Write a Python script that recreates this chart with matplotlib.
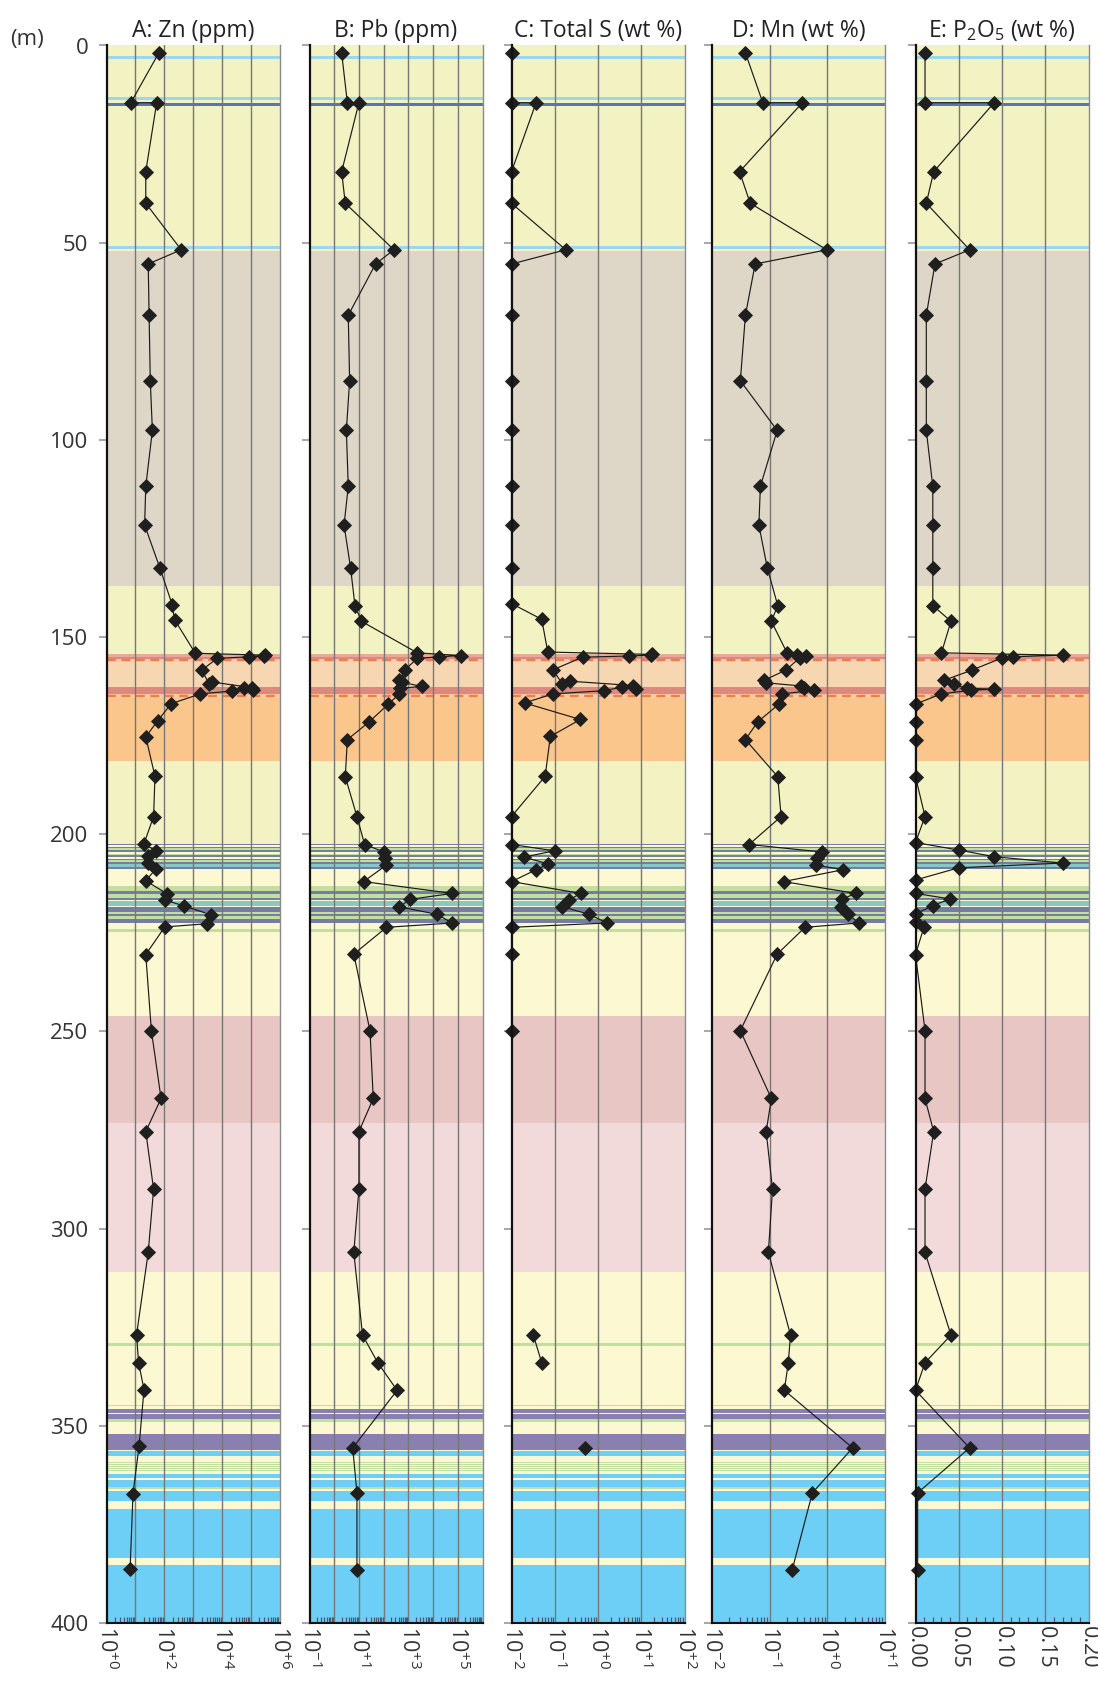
import numpy as np
import matplotlib
matplotlib.use("Agg")
import matplotlib.pyplot as plt
from matplotlib.ticker import FixedLocator, NullFormatter, FixedFormatter

plt.rcParams['font.family'] = ['Open Sans', 'DejaVu Sans']
plt.rcParams['mathtext.fontset'] = 'custom'
plt.rcParams['mathtext.rm'] = 'Open Sans'
plt.rcParams['mathtext.it'] = 'Open Sans:italic'
plt.rcParams['mathtext.bf'] = 'Open Sans:bold'

# ---------------------------------------------------------------- data
# A: Zn (ppm)
zn_depth = [1.9, 14.5, 14.5, 32, 40, 51.8, 55.4, 68.4, 85, 97.6, 111.8, 121.6,
            132.6, 141.8, 145.6, 154.1, 154.6, 154.8, 155.0, 155.4, 158.4,
            161.8, 161.4, 162.8, 163.3, 163.0, 163.7, 164.4, 166.9, 171.2,
            175.3, 185.3, 195.5, 202.4, 204.2, 205.6, 207.3, 208.8, 211.8,
            215.1, 216.7, 218.2, 220.4, 222.7, 223.5, 230.5, 249.8, 267, 275.4,
            290, 306, 327, 334, 340.8, 355.1, 367.2, 386.2]
zn_ppm = [65, 7, 55, 23, 23, 390, 28, 30, 33, 39, 23, 21,
          72, 190, 230, 1200, 316000, 290000, 89000, 6900, 2000,
          3600, 4500, 107000, 123000, 60000, 22000, 1800, 175, 60,
          23, 48, 43, 20, 51, 27, 28, 51, 23,
          126, 107, 500, 4100, 2950, 105, 23, 36, 78, 23,
          43, 28, 11, 13, 20, 13.5, 8.3, 6.6]

# B: Pb (ppm)
pb_depth = [1.9, 14.5, 14.5, 32, 40, 51.8, 55.4, 68.4, 85, 97.6, 111.8, 121.6,
            132.5, 142, 146, 154, 154.7, 155.0, 155.4, 158.4, 161, 161.5,
            162.5, 163, 164.4, 167, 171.5, 176, 185.4, 195.5, 202.6, 204.5,
            206, 207.8, 212, 215, 216.5, 218.4, 220.3, 222.5, 223.6, 230.4,
            249.8, 267, 275.4, 290, 306, 327, 334, 341, 355.6, 367, 386.6]
pb_ppm = [2.0, 3.4, 10, 2.0, 2.8, 260, 47, 3.7, 4.2, 3.1, 3.7, 2.5,
          4.6, 6.9, 12.6, 2300, 130000, 18000, 2300, 700, 430, 560,
          3500, 470, 430, 155, 26, 3.4, 2.8, 8.3, 17, 105,
          115, 130, 15.5, 59000, 1200, 430, 14500, 59000, 130, 6.2,
          28, 38, 10, 10, 6.2, 14, 58, 350, 5.6, 8.3, 8.3]

# C: Total S (wt %); NaN marks depths without analyses
s_depth = [1.9, 14.5, 14.5, 32, 40, 51.8, 55.4, 68.4, 85, 97.6, 111.8, 121.6,
           132.5, 141.5, 145.5, 153.8, 154.4, 154.6, 154.8, 155.1, 158.3,
           161.9, 161.2, 162.3, 163.1, 162.7, 163.6, 164.4, 166.7, 170.9,
           175.2, 185.3, 195.5, 202.6, 204.2, 205.8, 207.5, 209, 212, 215,
           216.7, 218.4, 220.3, 222.5, 223.6, 230.4, 249.8, 290, 327, 334,
           345, 355.6]
s_wt = [0.01, 0.01, 0.037, 0.01, 0.01, 0.18, 0.01, 0.01, 0.01, 0.01, 0.01, 0.01,
        0.01, 0.01, 0.05, 0.069, 18, 16.6, 5.2, 0.44, 0.091,
        0.15, 0.23, 6.5, 7.4, 3.5, 1.4, 0.091, 0.020, 0.39,
        0.079, 0.060, 0.01, 0.01, 0.10, 0.019, 0.071, 0.037, 0.01, 0.40,
        0.21, 0.15, 0.63, 1.6, 0.01, 0.01, 0.01, np.nan, 0.032, 0.05,
        np.nan, 0.5]

# D: Mn (wt %)
mn_depth = [1.9, 14.5, 14.5, 32, 40, 51.8, 55.4, 68.4, 85, 97.6, 111.8, 121.6,
            132.5, 142, 146, 154, 154.6, 154.9, 155.3, 158.4, 161, 161.6,
            162.4, 163, 163.5, 164.4, 167, 171.5, 176, 185.4, 195.5, 202.6,
            204.5, 206, 207.8, 209, 212, 215, 216.5, 218.4, 220.3, 222.5,
            223.6, 230.4, 249.8, 267, 275.4, 290, 306, 327, 334, 341, 355.6,
            367, 386.6]
mn_wt = [0.038, 0.076, 0.37, 0.030, 0.046, 0.98, 0.056, 0.038, 0.031, 0.135,
         0.069, 0.065, 0.091, 0.138, 0.107, 0.20, 0.30, 0.42, 0.33, 0.19,
         0.079, 0.087, 0.35, 0.39, 0.58, 0.166, 0.145, 0.062, 0.038, 0.138,
         0.158, 0.044, 0.81, 0.66, 0.63, 1.86, 0.174, 3.1, 1.78, 1.70, 2.3,
         3.5, 0.41, 0.135, 0.031, 0.107, 0.087, 0.112, 0.095, 0.23, 0.21,
         0.18, 2.75, 0.55, 0.245]

# E: P2O5 (wt %)
p_depth = [1.9, 14.5, 14.5, 32, 40, 51.8, 55.4, 68.4, 85, 97.6, 111.8, 121.6,
           132.5, 142, 146, 154, 154.6, 155.0, 155.3, 158.4, 161, 162, 163,
           163.2, 163.5, 164.4, 167, 171.5, 176, 185.4, 195.5, 202.1, 204,
           205.7, 207.3, 208.5, 211.6, 215, 216.4, 218.1, 220.2, 222.3, 223.4,
           230.5, 249.8, 267, 275.4, 290, 306, 327, 334, 341, 355.6, 367,
           386.6]
p_wt = [0.011, 0.011, 0.091, 0.021, 0.0125, 0.0625, 0.0225, 0.0125, 0.0125,
        0.0125, 0.02, 0.02, 0.02, 0.02, 0.041, 0.03, 0.17, 0.1125, 0.10,
        0.065, 0.0325, 0.044, 0.059, 0.091, 0.064, 0.03, 0.0, 0.0, 0.0, 0.0,
        0.011, 0.0, 0.05, 0.091, 0.17, 0.05, 0.0, 0.0, 0.04, 0.02, 0.0, 0.0,
        0.01, 0.0, 0.011, 0.011, 0.021, 0.011, 0.011, 0.041, 0.011, 0.0,
        0.0625, 0.0025, 0.0025]

# Lithological units (depth intervals, m)
unit_top = [0, 52.2, 137, 154.4, 155.0, 155.8, 162.7, 164.5, 181.5, 202.4,
            224.9, 246, 273.2, 311]
unit_base = [52.2, 137, 154.4, 155.0, 155.8, 162.7, 164.5, 181.5, 202.4,
             224.9, 246, 273.2, 311, 400]
unit_kind = ['green_yellow', 'beige', 'green_yellow', 'salmon_light', 'salmon',
             'peach', 'salmon', 'orange', 'green_yellow', 'pale_yellow',
             'pale_yellow', 'dusty_pink', 'light_pink', 'pale_yellow']

# Thin beds drawn over the units
bed_top = [2.7, 13.1, 14.6, 50.9,
           202.4, 203.2, 203.6, 204.07, 204.9, 205.35, 206.2, 206.6, 207.0,
           207.5, 208.3,
           213.1, 214.5, 215.2, 216.2, 216.9, 218.5, 219.6, 220.2, 220.7,
           221.5, 224.0, 329.1,
           344.1, 344.6, 345.7, 347.1, 348.3, 352.0, 354.2, 356.3,
           357.8, 358.3, 358.8, 359.3, 359.8, 360.3, 360.8, 361.3,
           362.1, 363.8, 365.6, 366.6, 371.0, 385.4]
bed_base = [3.3, 13.8, 15.3, 51.5,
            202.8, 203.6, 204.07, 204.5, 205.35, 205.8, 206.6, 207.0, 207.5,
            208.3, 208.8,
            214.5, 215.2, 216.2, 216.7, 218.1, 219.6, 220.2, 220.7, 221.5,
            222.4, 224.9, 329.8,
            344.3, 344.9, 346.7, 348.2, 349.0, 354.0, 356.2, 357.6,
            357.95, 358.45, 358.95, 359.45, 359.95, 360.45, 360.95, 361.45,
            363.3, 365.5, 365.9, 369.0, 383.5, 400]
bed_kind = ['light_blue', 'light_blue', 'dark_blue', 'light_blue',
            'slate', 'slate', 'green', 'slate', 'green', 'slate', 'slate',
            'green', 'slate', 'teal', 'slate',
            'green', 'slate', 'green', 'slate', 'teal', 'slate', 'green',
            'slate', 'green', 'slate', 'green', 'green',
            'green', 'green', 'purple', 'purple', 'green', 'purple', 'purple',
            'blue',
            'green', 'green', 'green', 'green', 'green', 'green', 'green',
            'green',
            'blue', 'blue', 'green', 'blue', 'blue', 'blue']

# Dashed contacts
contact_depths = [155.9, 164.85]

palette = {
    'green_yellow': '#F2F2C3', 'beige': '#DED6C6', 'salmon_light': '#E9A99A',
    'salmon': '#DC8A7E', 'peach': '#F6D7B2', 'orange': '#FBC68C',
    'pale_yellow': '#FCF8D1', 'dusty_pink': '#E8C6C3', 'light_pink': '#F2DADA',
    'light_blue': '#9ED6EE', 'dark_blue': '#5B72B6', 'slate': '#737EA2',
    'green': '#C3DE9F', 'teal': '#88C8C3', 'purple': '#8980B0',
    'blue': '#6DCFF5',
}

panels = [
    dict(title='A: Zn (ppm)', depth=zn_depth, values=zn_ppm, log=True,
         lim=(1e0, 1e6), grid_exp=range(0, 7), label_exp=[0, 2, 4, 6]),
    dict(title='B: Pb (ppm)', depth=pb_depth, values=pb_ppm, log=True,
         lim=(1e-1, 1e6), grid_exp=range(-1, 7), label_exp=[-1, 1, 3, 5]),
    dict(title='C: Total S (wt %)', depth=s_depth, values=s_wt, log=True,
         lim=(1e-2, 1e2), grid_exp=range(-2, 3), label_exp=[-2, -1, 0, 1, 2]),
    dict(title='D: Mn (wt %)', depth=mn_depth, values=mn_wt, log=True,
         lim=(1e-2, 1e1), grid_exp=range(-2, 2), label_exp=[-2, -1, 0, 1]),
    dict(title='E: P$_2$O$_5$ (wt %)', depth=p_depth, values=p_wt, log=False,
         lim=(0.0, 0.2)),
]

# ---------------------------------------------------------------- layout
W, H = 1098, 1685
fig = plt.figure(figsize=(W / 100, H / 100), dpi=100)
lefts = [106.5, 309.5, 511.5, 712.0, 915.5]
ax_w = 173.0
top_px, bot_px = 45.5, 1623.0


def exp_label(e):
    sign = '+' if e >= 0 else '-'
    return r'$10^{%s%d}$' % (sign, abs(e))


axes = []
for i, p in enumerate(panels):
    ax = fig.add_axes([lefts[i] / W, 1 - bot_px / H, ax_w / W,
                       (bot_px - top_px) / H])
    axes.append(ax)

    # lithology background
    for t, b, k in zip(unit_top, unit_base, unit_kind):
        ax.axhspan(t, b, color=palette[k], lw=0, zorder=0)
    for t, b, k in zip(bed_top, bed_base, bed_kind):
        ax.axhspan(t, b, color=palette[k], lw=0, zorder=0.5)
    for d in contact_depths:
        ax.axhline(d, color='#F6CBB0', lw=2.0, zorder=0.6)
        ax.axhline(d, color='#EE7D4E', lw=1.6, ls=(0, (4, 2.5)), zorder=0.7)

    ax.set_ylim(400, 0)
    if p['log']:
        ax.set_xscale('log')
        ax.set_xlim(*p['lim'])
        grid_vals = [10.0 ** e for e in p['grid_exp']]
        ax.xaxis.set_major_locator(FixedLocator(grid_vals))
        ax.xaxis.set_major_formatter(FixedFormatter(
            [exp_label(e) if e in p['label_exp'] else '' for e in p['grid_exp']]))
        minors = [m * 10.0 ** e for e in p['grid_exp'][:-1] for m in range(2, 10)]
        ax.xaxis.set_minor_locator(FixedLocator(minors))
        ax.xaxis.set_minor_formatter(NullFormatter())
    else:
        ax.set_xlim(*p['lim'])
        grid_vals = [0.0, 0.05, 0.10, 0.15, 0.20]
        ax.xaxis.set_major_locator(FixedLocator(grid_vals))
        ax.xaxis.set_major_formatter(FixedFormatter(
            ['%.2f' % v for v in grid_vals]))
        ax.xaxis.set_minor_locator(FixedLocator(
            [v / 100 for v in range(1, 20) if v % 5]))
        ax.xaxis.set_minor_formatter(NullFormatter())

    for v in grid_vals[1:-1]:
        ax.axvline(v, color='#777777', lw=1.0, zorder=1)

    ax.plot(p['values'], p['depth'], color='#1a1a1a', lw=0.85, zorder=3,
            marker='D', ms=7.2, mfc='#1f1f1f', mec='#1f1f1f', mew=0.6,
            clip_on=False)

    ax.tick_params(axis='x', which='major', direction='in', length=0,
                   labelsize=15.5, pad=2.5, labelrotation=-90)
    ax.tick_params(axis='x', which='minor', direction='in', length=4,
                   width=0.9, color='#4d5a6a')
    ax.set_yticks(range(0, 401, 50))
    ax.tick_params(axis='y', which='major', direction='out', length=6,
                   width=1.3, color='#a0a0a0', labelsize=16, pad=7,
                   labelleft=(i == 0))
    ax.tick_params(axis='y', which='minor', left=False)

    ax.spines['top'].set_visible(False)
    ax.spines['left'].set_linewidth(1.6)
    ax.spines['left'].set_color('#111111')
    ax.spines['bottom'].set_linewidth(1.5)
    ax.spines['bottom'].set_color('#111111')
    ax.spines['right'].set_linewidth(1.0)
    ax.spines['right'].set_color('#8a8a8a')
    for s in ax.spines.values():
        s.set_zorder(4)

    ax.set_title(p['title'], fontsize=16.5, pad=6, color='#222222')
    for lab in ax.get_xticklabels():
        lab.set_color('#333333')

axes[0].tick_params(axis='y', labelcolor='#333333')
fig.text(10 / W, 1 - 39 / H, '(m)', fontsize=16, color='#333333',
         ha='left', va='center')

fig.savefig('out.png', dpi=100)
